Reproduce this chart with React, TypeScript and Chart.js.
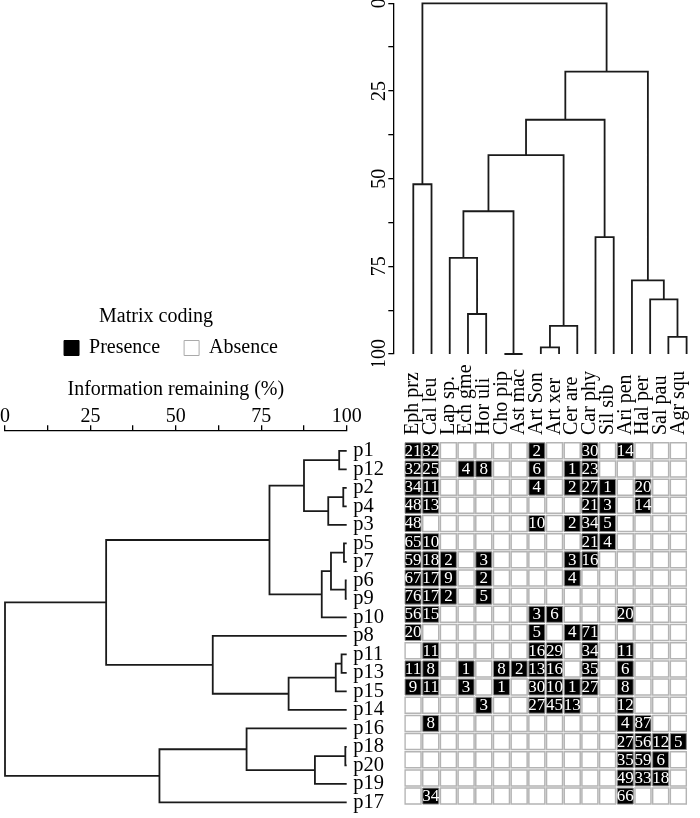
import React, { useEffect, useRef } from 'react';
import { Chart, registerables } from 'chart.js';

Chart.register(...registerables);

const FONT = "'Liberation Serif', 'Times New Roman', serif";

// ---------- data ----------
const COLUMNS = ['Eph prz', 'Cal leu', 'Lap sp.', 'Ech gme', 'Hor uli', 'Cho pip', 'Ast mac', 'Art Son',
  'Art xer', 'Cer are', 'Car phy', 'Sil sib', 'Ari pen', 'Hal per', 'Sal pau', 'Agr squ'];

const ROWS = ['p1', 'p12', 'p2', 'p4', 'p3', 'p5', 'p7', 'p6', 'p9', 'p10',
  'p8', 'p11', 'p13', 'p15', 'p14', 'p16', 'p18', 'p20', 'p19', 'p17'];

// counts per row (same order as ROWS), 0 = absence
const COUNTS: number[][] = [
  [21, 32, 0, 0, 0, 0, 0, 2, 0, 0, 30, 0, 14, 0, 0, 0],
  [32, 25, 0, 4, 8, 0, 0, 6, 0, 1, 23, 0, 0, 0, 0, 0],
  [34, 11, 0, 0, 0, 0, 0, 4, 0, 2, 27, 1, 0, 20, 0, 0],
  [48, 13, 0, 0, 0, 0, 0, 0, 0, 0, 21, 3, 0, 14, 0, 0],
  [48, 0, 0, 0, 0, 0, 0, 10, 0, 2, 34, 5, 0, 0, 0, 0],
  [65, 10, 0, 0, 0, 0, 0, 0, 0, 0, 21, 4, 0, 0, 0, 0],
  [59, 18, 2, 0, 3, 0, 0, 0, 0, 3, 16, 0, 0, 0, 0, 0],
  [67, 17, 9, 0, 2, 0, 0, 0, 0, 4, 0, 0, 0, 0, 0, 0],
  [76, 17, 2, 0, 5, 0, 0, 0, 0, 0, 0, 0, 0, 0, 0, 0],
  [56, 15, 0, 0, 0, 0, 0, 3, 6, 0, 0, 0, 20, 0, 0, 0],
  [20, 0, 0, 0, 0, 0, 0, 5, 0, 4, 71, 0, 0, 0, 0, 0],
  [0, 11, 0, 0, 0, 0, 0, 16, 29, 0, 34, 0, 11, 0, 0, 0],
  [11, 8, 0, 1, 0, 8, 2, 13, 16, 0, 35, 0, 6, 0, 0, 0],
  [9, 11, 0, 3, 0, 1, 0, 30, 10, 1, 27, 0, 8, 0, 0, 0],
  [0, 0, 0, 0, 3, 0, 0, 27, 45, 13, 0, 0, 12, 0, 0, 0],
  [0, 8, 0, 0, 0, 0, 0, 0, 0, 0, 0, 0, 4, 87, 0, 0],
  [0, 0, 0, 0, 0, 0, 0, 0, 0, 0, 0, 0, 27, 56, 12, 5],
  [0, 0, 0, 0, 0, 0, 0, 0, 0, 0, 0, 0, 35, 59, 6, 0],
  [0, 0, 0, 0, 0, 0, 0, 0, 0, 0, 0, 0, 49, 33, 18, 0],
  [0, 34, 0, 0, 0, 0, 0, 0, 0, 0, 0, 0, 66, 0, 0, 0],
];

// merges: [child, child, height]; child = leaf name or index of an earlier merge
type Child = string | number;
type Merge = [Child, Child, number];

const COLUMN_MERGES: Merge[] = [
  ['Eph prz', 'Cal leu', 51.6], // 0
  ['Ech gme', 'Hor uli', 88.6], // 1
  ['Lap sp.', 1, 72.6],         // 2
  ['Cho pip', 'Ast mac', 100],  // 3
  [2, 3, 59.3],                 // 4
  ['Art Son', 'Art xer', 98.1], // 5
  [5, 'Cer are', 92.0],         // 6
  [4, 6, 43.3],                 // 7
  ['Car phy', 'Sil sib', 66.7], // 8
  [7, 8, 33.2],                 // 9
  ['Sal pau', 'Agr squ', 95.1], // 10
  ['Hal per', 10, 84.4],        // 11
  ['Ari pen', 11, 79.0],        // 12
  [9, 12, 19.5],                // 13
  [0, 13, 0],                   // 14
];

const ROW_MERGES: Merge[] = [
  ['p1', 'p12', 97.8], // 0
  ['p2', 'p4', 99.0],  // 1
  [1, 'p3', 94.6],     // 2
  [0, 2, 87.5],        // 3
  ['p5', 'p7', 99.2],  // 4
  ['p6', 'p9', 99.7],  // 5
  [4, 5, 95.4],        // 6
  [6, 'p10', 92.7],    // 7
  [3, 7, 77.4],        // 8
  ['p11', 'p13', 98.5],// 9
  [9, 'p15', 96.8],    // 10
  [10, 'p14', 83.0],   // 11
  ['p8', 11, 60.8],    // 12
  [8, 12, 29.6],       // 13
  ['p18', 'p20', 99.6],// 14
  [14, 'p19', 90.7],   // 15
  ['p16', 15, 70.7],   // 16
  [16, 'p17', 45.2],   // 17
  [13, 17, 0],         // 18
];

const HEIGHT_TICKS = [0, 12.5, 25, 37.5, 50, 62.5, 75, 87.5, 100];
const HEIGHT_LABELS = [0, 25, 50, 75, 100];
const LEAF_HEIGHT = 100;
const AXIS_TITLE = 'Information remaining (%)';
const LEGEND_TITLE = 'Matrix coding';
const LEGEND_ITEMS = ['Presence', 'Absence'];

// ---------- layout (pixels) ----------
const COL0 = 413.3;   // centre of first column
const COL_W = 18.22;  // column pitch
const ROW0 = 450.95;  // centre of first row
const ROW_H = 18.5;   // row pitch

const T_BOX = { x: 340, y: 0, w: 360, h: 366 };
const T_AREA = { left: 393.3, right: 700, top: 3.3, bottom: 354 };
const M_BOX = { x: 340, y: 330, w: 360, h: 488 };
const M_AREA = { left: COL0 - COL_W / 2, right: COL0 - COL_W / 2 + 16 * COL_W, top: ROW0 - ROW_H / 2, bottom: ROW0 - ROW_H / 2 + 20 * ROW_H };
const L_BOX = { x: 0, y: 370, w: 400, h: 448 };
const L_AREA = { left: 5, right: 346.7, top: 430.7, bottom: 818 };
const G_BOX = { x: 0, y: 307, w: 342, h: 150 };
const TITLE_SHIFT = '\u00a0'.repeat(6); // nudges the centred legend title left

const BLACK = '#000';
const LINE = '#1a1a1a';
const LINE_W = 1.8;

function treeSegments(leaves: string[], merges: Merge[]) {
  const nodePos: number[] = [];
  const pos = (c: Child) => (typeof c === 'string' ? leaves.indexOf(c) : nodePos[c]);
  const hgt = (c: Child) => (typeof c === 'string' ? LEAF_HEIGHT : merges[c][2]);
  const out: ({ p: number; h: number } | null)[] = [];
  merges.forEach(([a, b, h], i) => {
    const pa = pos(a);
    const pb = pos(b);
    nodePos[i] = (pa + pb) / 2;
    out.push({ p: pa, h: hgt(a) }, { p: pa, h }, { p: pb, h }, { p: pb, h: hgt(b) }, null);
  });
  return out;
}

const base = (box: any, area: any) => ({
  animation: false,
  responsive: false,
  maintainAspectRatio: false,
  events: [],
  layout: {
    padding: {
      left: 0,
      right: box.x + box.w - area.right,
      top: 0,
      bottom: box.y + box.h - area.bottom,
    },
  },
});

function topTreeConfig(): any {
  const data = treeSegments(COLUMNS, COLUMN_MERGES).map((s) => (s ? { x: s.p, y: s.h } : { x: null, y: null }));
  const opts: any = base(T_BOX, T_AREA);
  opts.layout.padding.top = T_AREA.top - T_BOX.y;
  return {
    type: 'line',
    data: { datasets: [{ data, borderColor: LINE, borderWidth: LINE_W, pointRadius: 0, tension: 0, clip: false, spanGaps: false, fill: false }] },
    options: {
      ...opts,
      plugins: { legend: { display: false }, tooltip: { enabled: false } },
      scales: {
        x: { type: 'linear', display: false, min: (T_AREA.left - COL0) / COL_W, max: (T_AREA.right - COL0) / COL_W },
        y: {
          type: 'linear', position: 'left', reverse: true, min: 0, max: 100,
          afterBuildTicks: (s: any) => { s.ticks = HEIGHT_TICKS.map((v) => ({ value: v })); },
          afterFit: (s: any) => { s.width = T_AREA.left - T_BOX.x; s.paddingTop = 0; s.paddingBottom = 0; },
          ticks: {
            autoSkip: false,
            callback: (v: number) => (HEIGHT_LABELS.includes(v) ? String(v) : ''),
            minRotation: 90, maxRotation: 90, crossAlign: 'center', padding: -6,
            color: BLACK, font: { family: FONT, size: 20 },
          },
          grid: { drawOnChartArea: false, drawTicks: true, tickLength: 5, color: BLACK, lineWidth: 1.3 },
          border: { display: true, color: BLACK, width: 1.3 },
        },
      },
    },
  };
}

function leftTreeConfig(): any {
  const data = treeSegments(ROWS, ROW_MERGES).map((s) => (s ? { x: s.h, y: s.p } : { x: null, y: null }));
  const opts: any = base(L_BOX, L_AREA);
  opts.layout.padding.left = L_AREA.left - L_BOX.x;
  opts.layout.padding.right = 0;
  return {
    type: 'line',
    data: { datasets: [{ data, borderColor: LINE, borderWidth: LINE_W, pointRadius: 0, tension: 0, clip: false, spanGaps: false, fill: false }] },
    options: {
      ...opts,
      plugins: { legend: { display: false }, tooltip: { enabled: false } },
      scales: {
        x: {
          type: 'linear', position: 'top', min: 0, max: 100,
          afterBuildTicks: (s: any) => { s.ticks = HEIGHT_TICKS.map((v) => ({ value: v })); },
          afterFit: (s: any) => { s.height = L_AREA.top - L_BOX.y; s.paddingLeft = 0; s.paddingRight = 0; },
          ticks: {
            autoSkip: false, maxRotation: 0,
            callback: (v: number) => (HEIGHT_LABELS.includes(v) ? String(v) : ''),
            padding: -3.5, color: BLACK, font: { family: FONT, size: 20 },
          },
          title: { display: true, text: AXIS_TITLE, color: BLACK, font: { family: FONT, size: 20 }, padding: { top: 8, bottom: 0 } },
          grid: { drawOnChartArea: false, drawTicks: true, tickLength: 5.5, color: BLACK, lineWidth: 1.3 },
          border: { display: true, color: BLACK, width: 1.3 },
        },
        y: {
          type: 'linear', position: 'right', reverse: true,
          min: (L_AREA.top - ROW0) / ROW_H, max: (L_AREA.bottom - ROW0) / ROW_H,
          afterBuildTicks: (s: any) => { s.ticks = ROWS.map((_, i) => ({ value: i })); },
          afterFit: (s: any) => { s.width = L_BOX.x + L_BOX.w - L_AREA.right; s.paddingTop = 0; s.paddingBottom = 0; },
          ticks: {
            autoSkip: false, callback: (v: number) => ROWS[v] ?? '',
            padding: 6.6, crossAlign: 'near', color: BLACK, font: { family: FONT, size: 20.5 },
          },
          grid: { display: false, drawTicks: false },
          border: { display: false },
        },
      },
    },
  };
}

const cellText = {
  id: 'cellText',
  afterDatasetsDraw(chart: any) {
    const meta = chart.getDatasetMeta(0);
    const ds = chart.data.datasets[0];
    const ctx = chart.ctx;
    ctx.save();
    ctx.fillStyle = '#fff';
    ctx.font = `17px ${FONT}`;
    ctx.textAlign = 'center';
    ctx.textBaseline = 'middle';
    meta.data.forEach((el: any, i: number) => {
      ctx.fillText(String(ds.data[i].v), el.x, el.y + 0.5);
    });
    ctx.restore();
  },
};

function matrixConfig(): any {
  const presence: any[] = [];
  const absence: any[] = [];
  COUNTS.forEach((row, r) => row.forEach((v, c) => {
    (v > 0 ? presence : absence).push({ x: c, y: r, v });
  }));
  const radius = 16 / Math.SQRT2;
  const opts: any = base(M_BOX, M_AREA);
  opts.layout.padding.left = M_AREA.left - M_BOX.x;
  const labelFont = 20;
  return {
    type: 'scatter',
    data: {
      datasets: [
        { label: LEGEND_ITEMS[0], data: presence, pointStyle: 'rect', pointRadius: radius, backgroundColor: '#000', borderColor: '#8a8a8a', borderWidth: 1 },
        { label: LEGEND_ITEMS[1], data: absence, pointStyle: 'rect', pointRadius: radius, backgroundColor: '#fff', borderColor: '#b4b4b4', borderWidth: 1.5 },
      ],
    },
    options: {
      ...opts,
      plugins: { legend: { display: false }, tooltip: { enabled: false } },
      scales: {
        x: {
          type: 'linear', position: 'top', min: -0.5, max: 15.5,
          afterBuildTicks: (s: any) => { s.ticks = COLUMNS.map((_, i) => ({ value: i })); },
          afterFit: (s: any) => { s.height = M_AREA.top - M_BOX.y; s.paddingLeft = 0; s.paddingRight = 0; },
          ticks: {
            autoSkip: false, minRotation: 90, maxRotation: 90, padding: 6.7,
            labelOffset: labelFont * 1.2,
            callback: (v: number) => COLUMNS[v] ?? '',
            color: BLACK, font: { family: FONT, size: labelFont },
          },
          grid: { display: false, drawTicks: false },
          border: { display: false },
        },
        y: { type: 'linear', display: false, reverse: true, min: -0.5, max: 19.5 },
      },
    },
    plugins: [cellText],
  };
}

function legendConfig(): any {
  const fills = ['#000', '#fff'];
  const strokes = ['#000', '#aaaaaa'];
  return {
    type: 'scatter',
    data: { datasets: LEGEND_ITEMS.map((label, i) => ({ label, data: [], backgroundColor: fills[i], borderColor: strokes[i] })) },
    options: {
      animation: false, responsive: false, maintainAspectRatio: false, events: [],
      scales: { x: { display: false }, y: { display: false } },
      plugins: {
        tooltip: { enabled: false },
        legend: {
          display: true, position: 'top', align: 'center',
          title: { display: true, text: LEGEND_TITLE + TITLE_SHIFT, color: BLACK, font: { family: FONT, size: 20 }, padding: { top: 0, bottom: -17 } },
          labels: {
            boxWidth: 15, boxHeight: 15, padding: 24, color: BLACK, font: { family: FONT, size: 20 },
            generateLabels: () => LEGEND_ITEMS.map((text, i) => ({
              text, fillStyle: fills[i], strokeStyle: strokes[i], lineWidth: 1, hidden: false, datasetIndex: i, fontColor: BLACK,
            })),
          },
        },
      },
    },
  };
}

function ChartBox({ box, make }: { box: any; make: () => any }) {
  const ref = useRef<HTMLCanvasElement>(null);
  useEffect(() => {
    const chart = new Chart(ref.current as HTMLCanvasElement, make());
    return () => chart.destroy();
  }, []);
  return (
    <canvas
      ref={ref}
      width={box.w}
      height={box.h}
      style={{ position: 'absolute', left: box.x, top: box.y, width: box.w, height: box.h }}
    />
  );
}

export default function App() {
  return (
    <div style={{ position: 'fixed', left: 0, top: 0, width: 700, height: 818, background: '#fff', overflow: 'hidden' }}>
      <ChartBox box={T_BOX} make={topTreeConfig} />
      <ChartBox box={G_BOX} make={legendConfig} />
      <ChartBox box={L_BOX} make={leftTreeConfig} />
      <ChartBox box={M_BOX} make={matrixConfig} />
    </div>
  );
}
